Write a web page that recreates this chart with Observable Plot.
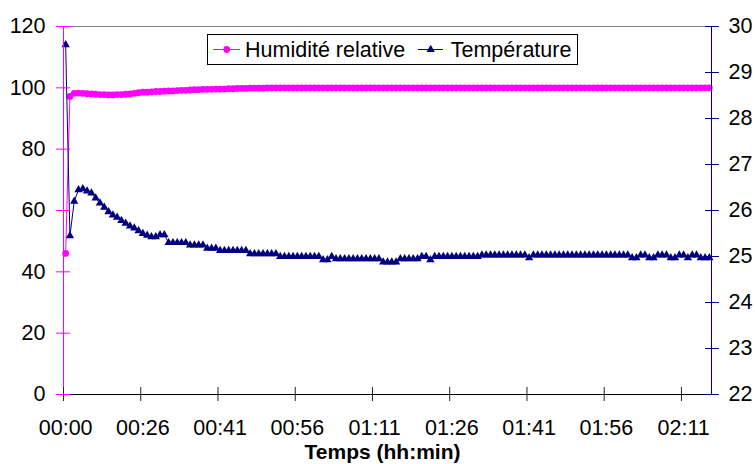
<!DOCTYPE html>
<html>
<head>
<meta charset="utf-8">
<script src="https://cdn.jsdelivr.net/npm/d3@7"></script>
<script src="https://cdn.jsdelivr.net/npm/@observablehq/plot@0.6"></script>
<style>
  body { margin: 0; background: #fff; }
  #wrap { position: relative; width: 755px; height: 464px; font-family: "Liberation Sans", Arial, sans-serif; }
  #legend { position: absolute; left: 207px; top: 34px; width: 371px; height: 31px; }
  #title { margin-left: 10px; width: 745px; height: 24px; line-height: 24px; text-align: center; font-weight: bold; font-size: 21px; color: #000; }
</style>
</head>
<body>
<div id="wrap">
  <div id="chart"></div>
  <div id="legend"></div>
  <div id="title">Temps (hh:min)</div>
</div>
<script>
// ---- data ----
const humidity = [
  46, 97.2, 98.2, 98.3, 98.2, 98.1, 98.0, 97.9, 97.8, 97.8,
  97.7, 97.7, 97.8, 97.8, 97.9, 98.0, 98.2, 98.4, 98.6, 98.6,
  98.7, 98.8, 98.8, 98.9, 99.0, 99.0, 99.1, 99.2, 99.2, 99.3,
  99.4, 99.4, 99.5, 99.5, 99.5, 99.6, 99.6, 99.6, 99.7, 99.7,
  99.8, 99.8, 99.8, 99.9, 99.9, 99.9, 99.9, 100, 100, 100,
  100, 100, 100, 100, 100, 100, 100, 100, 100, 100,
  100, 100, 100, 100, 100, 100, 100, 100, 100, 100,
  100, 100, 100, 100, 100, 100, 100, 100, 100, 100,
  100, 100, 100, 100, 100, 100, 100, 100, 100, 100,
  100, 100, 100, 100, 100, 100, 100, 100, 100, 100,
  100, 100, 100, 100, 100, 100, 100, 100, 100, 100,
  100, 100, 100, 100, 100, 100, 100, 100, 100, 100,
  100, 100, 100, 100, 100, 100, 100, 100, 100, 100,
  100, 100, 100, 100, 100, 100, 100, 100, 100, 100,
  100, 100, 100, 100, 100, 100, 100, 100, 100, 100,
  100
];
const temperature = [
  29.6, 25.45, 26.2, 26.45, 26.47, 26.42, 26.38, 26.27, 26.16, 26.07,
  25.97, 25.9, 25.85, 25.78, 25.72, 25.66, 25.62, 25.56, 25.5, 25.46,
  25.43, 25.43, 25.47, 25.47, 25.3, 25.3, 25.3, 25.3, 25.3, 25.25,
  25.25, 25.25, 25.25, 25.18, 25.18, 25.18, 25.13, 25.13, 25.13, 25.13,
  25.13, 25.13, 25.13, 25.06, 25.06, 25.06, 25.06, 25.06, 25.06, 25.06,
  25.0, 25.0, 25.0, 25.0, 25.0, 25.0, 25.0, 25.0, 25.0, 25.0,
  24.93, 24.93, 25.0, 24.95, 24.95, 24.95, 24.95, 24.95, 24.95, 24.95,
  24.95, 24.95, 24.95, 24.95, 24.88, 24.88, 24.88, 24.88, 24.95, 24.95,
  24.95, 24.95, 24.95, 25.0, 25.0, 24.93, 25.0, 25.0, 25.0, 25.0,
  25.0, 25.0, 25.0, 25.0, 25.0, 25.0, 25.0, 25.03, 25.03, 25.03,
  25.03, 25.03, 25.03, 25.03, 25.03, 25.03, 25.03, 25.03, 24.97, 25.03,
  25.03, 25.03, 25.03, 25.03, 25.03, 25.03, 25.03, 25.03, 25.03, 25.03,
  25.03, 25.03, 25.03, 25.03, 25.03, 25.03, 25.03, 25.03, 25.03, 25.03,
  25.03, 25.03, 24.97, 24.97, 25.03, 25.03, 24.97, 24.97, 25.03, 25.03,
  25.03, 24.97, 24.97, 25.03, 25.03, 24.97, 25.03, 25.03, 24.97, 24.97,
  24.97
];
const xTickLabels = ["00:00", "00:26", "00:41", "00:56", "01:11", "01:26", "01:41", "01:56", "02:11"];
const labelEvery = 18;
const humTicks = [0, 20, 40, 60, 80, 100, 120];
const tempTicks = [22, 23, 24, 25, 26, 27, 28, 29, 30];
const seriesNames = ["Humidité relative", "Température"];
const colors = {hum: "#FF00FF", temp: "#000080"};

// ---- build ----
const tMin = tempTicks[0], tMax = tempTicks[tempTicks.length - 1];
const hMax = humTicks[humTicks.length - 1];
const toH = t => (t - tMin) * hMax / (tMax - tMin);
const fromH = h => h * (tMax - tMin) / hMax + tMin;
const data = humidity.map((h, i) => ({i, h, t: temperature[i]}));
const n = humidity.length;
const labelPos = xTickLabels.map((_, k) => k * labelEvery);
const tickPos = xTickLabels.map((_, k) => k * labelEvery - 0.5);

const font = "'Liberation Sans', Arial, sans-serif";
const chart = Plot.plot({
  width: 755,
  height: 440,
  marginLeft: 63,
  marginRight: 44,
  marginTop: 26,
  marginBottom: 46,
  x: {domain: [-0.5, n - 0.5], axis: null, label: null},
  y: {domain: [0, hMax], axis: null, label: null},
  style: {fontFamily: font, fontSize: "21.5px", color: "#000", background: "#fff", overflow: "visible"},
  marks: [
    Plot.ruleY([hMax], {stroke: "#808080", strokeWidth: 1}),
    Plot.line(data, {x: "i", y: "h", stroke: colors.hum, strokeWidth: 1}),
    Plot.dot(data, {x: "i", y: "h", fill: colors.hum, r: 3.4}),
    Plot.line(data, {x: "i", y: d => toH(d.t), stroke: colors.temp, strokeWidth: 1}),
    Plot.dot(data, {x: "i", y: d => toH(d.t), fill: colors.temp, symbol: "triangle", r: 3.1}),
    Plot.ruleY([0], {stroke: "#000", strokeWidth: 1}),
    Plot.ruleX([-0.5], {stroke: colors.hum, strokeWidth: 1}),
    Plot.ruleX([n - 0.5], {stroke: colors.temp, strokeWidth: 1}),
    Plot.axisY(humTicks, {anchor: "left", label: null, tickSize: 14, dx: 7, tickPadding: 11, stroke: colors.hum, fill: "#000", tickFormat: d => String(d)}),
    Plot.axisY(tempTicks.map(toH), {anchor: "right", label: null, tickSize: 14, dx: -7, tickPadding: 10, stroke: colors.temp, fill: "#000", tickFormat: v => String(Math.round(fromH(v)))}),
    Plot.axisX(tickPos, {anchor: "bottom", label: null, tickSize: 14, dy: -7, stroke: "#222", tickFormat: () => ""}),
    Plot.axisX(labelPos, {anchor: "bottom", label: null, tickSize: 0, tickPadding: 25, fill: "#000", tickFormat: d => xTickLabels[Math.round(d / labelEvery)]})
  ]
});
document.getElementById("chart").appendChild(chart);

// legend
const lg = d3.select("#legend").append("svg")
  .attr("width", 371).attr("height", 31)
  .style("font-family", font).style("font-size", "21.5px");
lg.append("rect").attr("x", 0.5).attr("y", 0.5).attr("width", 370).attr("height", 30)
  .attr("fill", "#fff").attr("stroke", "#000").attr("stroke-width", 1);
lg.append("line").attr("x1", 6).attr("x2", 33).attr("y1", 15.5).attr("y2", 15.5).attr("stroke", colors.hum);
lg.append("path").attr("d", d3.symbol(d3.symbolCircle, Math.PI * 3.4 * 3.4)()).attr("transform", "translate(19.7,15.5)").attr("fill", colors.hum);
lg.append("text").attr("x", 38).attr("y", 23).text(seriesNames[0]);
lg.append("line").attr("x1", 211).attr("x2", 236).attr("y1", 15.5).attr("y2", 15.5).attr("stroke", colors.temp);
lg.append("path").attr("d", d3.symbol(d3.symbolTriangle, Math.PI * 3.1 * 3.1)()).attr("transform", "translate(223.7,15.5)").attr("fill", colors.temp);
lg.append("text").attr("x", 243.7).attr("y", 23).text(seriesNames[1]);
</script>
</body>
</html>
